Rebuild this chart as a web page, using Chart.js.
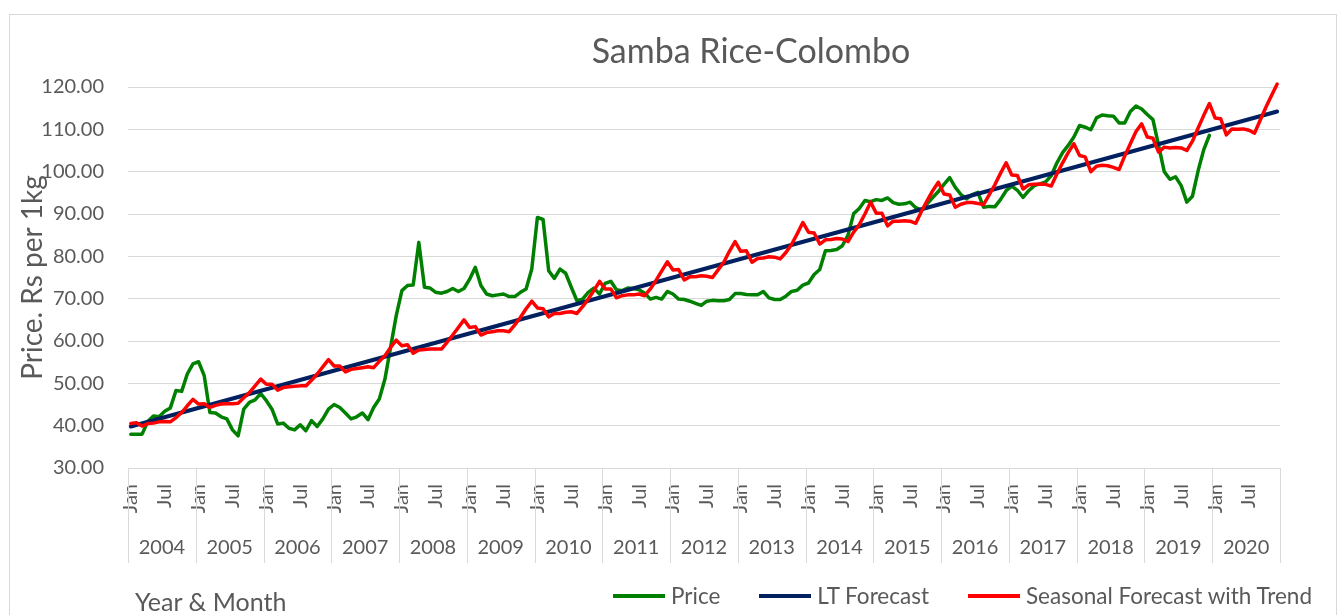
<!DOCTYPE html>
<html>
<head>
    <meta charset="UTF-8">
    <title>Samba Rice-Colombo</title>
    <script src="https://cdn.jsdelivr.net/npm/chart.js"></script>
    <style>
        body {
            margin: 0;
            background-color: #fff;
            font-family: Lato, "Open Sans", sans-serif;
        }
        #wrap {
            position: relative;
            width: 1338px;
            height: 615px;
            overflow: hidden;
        }
        #frame {
            position: absolute;
            left: 9px;
            top: 14px;
            width: 1326px;
            height: 700px;
            border: 1px solid #d9d9d9;
        }
        canvas {
            position: absolute;
            left: 0;
            top: 0;
        }
        #title {
            position: absolute;
            left: 451px;
            width: 600px;
            top: 29px;
            text-align: center;
            font-size: 34px;
            color: #595959;
        }
        #xTitle {
            position: absolute;
            left: 135px;
            top: 586px;
            font-size: 25px;
            color: #595959;
        }
        #legend {
            position: absolute;
            left: 613px;
            top: 582px;
            display: flex;
            white-space: nowrap;
            font-size: 22.5px;
            color: #595959;
        }
        .item {
            display: flex;
            flex-shrink: 0;
            align-items: center;
            margin-right: 39px;
        }
        .swatch {
            width: 52px;
            height: 4px;
            margin-right: 6px;
        }
    </style>
</head>
<body>
    <div id="wrap">
        <div id="frame"></div>
        <canvas id="myChart" width="1338" height="615"></canvas>
        <div id="title">Samba Rice-Colombo</div>
        <div id="xTitle">Year &amp; Month</div>
        <div id="legend"></div>
    </div>

    <script>
        const years = ['2004', '2005', '2006', '2007', '2008', '2009', '2010', '2011', '2012',
                       '2013', '2014', '2015', '2016', '2017', '2018', '2019', '2020'];
        const monthNames = ['Jan', 'Feb', 'Mar', 'Apr', 'May', 'Jun', 'Jul', 'Aug', 'Sep', 'Oct', 'Nov', 'Dec'];
        const shownMonths = ['Jan', 'Jul'];
        const yTicks = [30, 40, 50, 60, 70, 80, 90, 100, 110, 120];

        // monthly price, Jan 2004 - Dec 2019
        const price = [
            38.0, 38.0, 38.0, 41.0, 42.3, 42.1, 43.4, 44.2, 48.3, 48.1, 52.2, 54.6,
            55.1, 51.8, 43.1, 43.0, 42.1, 41.6, 39.0, 37.6, 43.9, 45.5, 46.1, 47.6,
            45.9, 43.9, 40.4, 40.6, 39.4, 39.0, 40.2, 38.8, 41.2, 39.8, 41.6, 43.9,
            45.0, 44.3, 43.0, 41.6, 42.1, 43.0, 41.4, 44.3, 46.3, 51.0, 58.5, 66.0,
            71.9, 73.1, 73.2, 83.3, 72.7, 72.5, 71.5, 71.3, 71.7, 72.4, 71.7, 72.4,
            74.6, 77.4, 73.1, 71.1, 70.7, 70.9, 71.1, 70.5, 70.5, 71.5, 72.3, 77.0,
            89.2, 88.7, 76.6, 74.8, 77.0, 76.0, 72.7, 69.5, 69.9, 71.5, 72.5, 71.1,
            73.6, 74.1, 72.1, 71.9, 72.5, 72.4, 72.1, 71.3, 69.9, 70.3, 69.9, 71.7,
            71.1, 69.9, 69.8, 69.4, 68.9, 68.4, 69.4, 69.6, 69.5, 69.5, 69.8, 71.2,
            71.2, 71.0, 70.9, 70.9, 71.7, 70.2, 69.8, 69.8, 70.6, 71.7, 72.0, 73.2,
            73.7, 75.7, 76.9, 81.3, 81.4, 81.6, 82.5, 85.0, 90.1, 91.3, 93.2, 92.9,
            93.4, 93.2, 93.8, 92.7, 92.3, 92.4, 92.8, 91.5, 90.9, 92.4, 93.9, 95.3,
            97.0, 98.6, 96.3, 94.6, 93.6, 94.6, 95.1, 91.6, 91.8, 91.7, 93.4, 95.5,
            96.6, 95.6, 93.9, 95.5, 96.7, 97.1, 97.6, 99.1, 102.1, 104.5, 106.2, 108.2,
            110.9, 110.5, 109.9, 112.7, 113.4, 113.2, 113.1, 111.5, 111.5, 114.2, 115.5, 114.8,
            113.5, 112.3, 106.2, 100.0, 98.2, 98.8, 96.7, 92.8, 94.2, 100.2, 105.2, 108.6
        ];

        // long-term trend line, first and last month
        const ltForecast = [39.8, 114.2];

        // seasonal forecast with trend, Jan 2004 - Dec 2020
        const seasonal = [
            40.5, 40.7, 39.9, 40.5, 40.6, 40.9, 41.0, 40.9, 41.9, 43.1, 44.7, 46.2,
            45.1, 45.2, 44.3, 44.8, 45.1, 45.2, 45.2, 45.3, 46.6, 47.8, 49.4, 51.0,
            49.8, 49.8, 48.4, 49.0, 49.2, 49.3, 49.4, 49.4, 50.7, 52.2, 53.9, 55.6,
            54.1, 54.1, 52.7, 53.3, 53.5, 53.7, 53.9, 53.7, 55.2, 56.5, 58.5, 60.2,
            58.9, 59.1, 57.1, 57.9, 58.0, 58.1, 58.1, 58.1, 59.7, 61.4, 63.2, 65.0,
            63.2, 63.4, 61.4, 62.0, 62.2, 62.4, 62.4, 62.2, 63.8, 65.6, 67.6, 69.4,
            67.8, 67.6, 65.7, 66.5, 66.5, 66.8, 66.9, 66.5, 68.1, 69.9, 71.9, 74.1,
            72.3, 72.3, 70.2, 70.7, 70.9, 70.9, 71.1, 70.7, 72.3, 74.3, 76.5, 78.7,
            76.8, 76.9, 74.4, 75.2, 75.2, 75.4, 75.3, 75.0, 76.8, 78.6, 81.2, 83.5,
            81.2, 81.3, 78.6, 79.5, 79.6, 79.9, 79.8, 79.4, 80.9, 82.8, 85.3, 88.0,
            85.7, 85.5, 82.9, 83.9, 84.0, 84.2, 84.1, 83.5, 85.7, 87.5, 90.0, 92.8,
            90.2, 90.2, 87.2, 88.3, 88.3, 88.4, 88.3, 87.8, 90.6, 93.1, 95.5, 97.5,
            94.7, 94.5, 91.6, 92.3, 92.7, 92.7, 92.5, 92.2, 94.5, 96.9, 99.6, 102.1,
            99.2, 99.1, 95.9, 96.9, 97.0, 97.1, 97.0, 96.6, 99.5, 102.1, 104.5, 106.6,
            103.8, 103.5, 100.0, 101.3, 101.5, 101.4, 101.0, 100.5, 103.7, 106.6, 109.5, 111.3,
            108.2, 107.9, 104.6, 105.8, 105.6, 105.7, 105.6, 105.0, 107.2, 110.3, 113.3, 116.1,
            112.7, 112.5, 108.7, 110.1, 110.0, 110.1, 109.8, 109.1, 112.2, 115.2, 118.0, 120.7
        ];

        const seriesNames = ['Price', 'LT Forecast', 'Seasonal Forecast with Trend'];
        const seriesColors = ['#008000', '#002060', '#ff0000'];

        const labels = [];
        years.forEach(y => monthNames.forEach(m => labels.push(m + ' ' + y)));

        // trend line only has its two ends, the library joins them
        const ltData = labels.map((l, i) => i === 0 ? ltForecast[0] : (i === labels.length - 1 ? ltForecast[1] : null));

        const fontFamily = 'Lato, "Open Sans", sans-serif';
        const textColor = '#595959';
        const gridColor = '#d9d9d9';

        // vertical separators between the years under the plot
        const yearLines = {
            id: 'yearLines',
            afterDraw(chart) {
                const ys = chart.scales.years;
                const ctx = chart.ctx;
                ctx.save();
                ctx.strokeStyle = gridColor;
                ctx.lineWidth = 1;
                ctx.beginPath();
                for (let i = 0; i <= years.length; i++) {
                    const x = Math.round(ys.getPixelForValue(i - 0.5)) + 0.5;
                    ctx.moveTo(x, chart.chartArea.bottom);
                    ctx.lineTo(x, ys.bottom);
                }
                ctx.stroke();
                ctx.restore();
            }
        };

        const ctx = document.getElementById('myChart').getContext('2d');
        const chart = new Chart(ctx, {
            type: 'line',
            data: {
                labels: labels,
                datasets: [{
                    label: seriesNames[0],
                    data: price,
                    borderColor: seriesColors[0],
                    borderWidth: 3.5,
                    order: 2
                }, {
                    label: seriesNames[1],
                    data: ltData,
                    borderColor: seriesColors[1],
                    borderWidth: 4,
                    spanGaps: true,
                    order: 1
                }, {
                    label: seriesNames[2],
                    data: seasonal,
                    borderColor: seriesColors[2],
                    borderWidth: 3.5,
                    clip: false,
                    order: 0
                }]
            },
            options: {
                responsive: false,
                animation: false,
                elements: {
                    point: { radius: 0 },
                    line: { tension: 0, borderJoinStyle: 'round', borderCapStyle: 'round' }
                },
                layout: {
                    padding: { top: 87, left: 10, right: 58, bottom: 52 }
                },
                plugins: {
                    legend: { display: false },
                    tooltip: { enabled: false },
                    title: { display: false }
                },
                scales: {
                    x: {
                        type: 'category',
                        offset: true,
                        weight: 1,
                        afterFit: scale => { scale.height = 48; },
                        grid: { display: false, offset: true, drawTicks: false },
                        border: { display: false },
                        ticks: {
                            autoSkip: false,
                            minRotation: 90,
                            maxRotation: 90,
                            padding: 16,
                            color: textColor,
                            font: { family: fontFamily, size: 20 },
                            callback: function (val) {
                                const m = this.getLabelForValue(val).split(' ')[0];
                                return shownMonths.includes(m) ? m : '';
                            }
                        }
                    },
                    years: {
                        type: 'category',
                        labels: years,
                        offset: true,
                        position: 'bottom',
                        weight: 2,
                        afterFit: scale => { scale.height = 47; },
                        grid: { display: false, drawTicks: false },
                        border: { display: false },
                        ticks: {
                            autoSkip: false,
                            maxRotation: 0,
                            padding: 20,
                            color: textColor,
                            font: { family: fontFamily, size: 20 }
                        }
                    },
                    y: {
                        min: yTicks[0],
                        max: yTicks[yTicks.length - 1],
                        afterFit: scale => { scale.width = 118; },
                        afterBuildTicks: scale => { scale.ticks = yTicks.map(v => ({ value: v })); },
                        grid: { color: gridColor, lineWidth: 1, drawTicks: false },
                        border: { display: false },
                        ticks: {
                            padding: 24,
                            color: textColor,
                            font: { family: fontFamily, size: 20 },
                            callback: v => v.toFixed(2)
                        },
                        title: {
                            display: true,
                            text: 'Price. Rs per 1kg',
                            color: textColor,
                            font: { family: fontFamily, size: 28 },
                            padding: { top: 6, bottom: 0 }
                        }
                    }
                }
            },
            plugins: [yearLines]
        });

        // legend built from the chart's own datasets
        const legend = document.getElementById('legend');
        chart.data.datasets.forEach(ds => {
            const item = document.createElement('div');
            item.className = 'item';
            const sw = document.createElement('span');
            sw.className = 'swatch';
            sw.style.backgroundColor = ds.borderColor;
            const txt = document.createElement('span');
            txt.textContent = ds.label;
            item.appendChild(sw);
            item.appendChild(txt);
            legend.appendChild(item);
        });
    </script>
</body>
</html>
